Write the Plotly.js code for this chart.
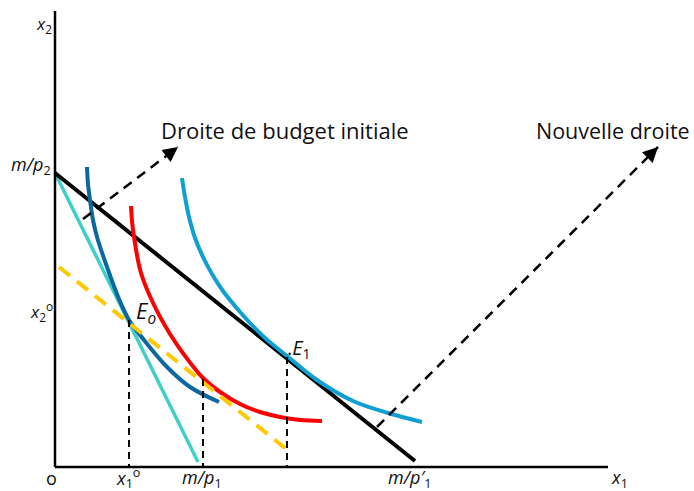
<!DOCTYPE html>
<html><head><meta charset="utf-8">
<script src="https://cdn.plot.ly/plotly-3.0.1.min.js"></script>
<style>html,body{margin:0;padding:0;background:#fff}</style>
</head><body><div id="chart" style="width:694px;height:491px"></div>
<script>
// ---- data (schematic units: quantity of good 1 / good 2) ----
const budgetInitialX = [0, 143];          // cyan: m/p2 -> m/p1
const budgetInitialY = [294, 5];
const budgetNewX = [0, 360];              // black: m/p2 -> m/p'1
const budgetNewY = [294, 6];
const compensatedX = [4, 235];            // yellow dashed
const compensatedY = [200, 15];
const ic0X = [32, 33, 35, 38, 42, 52, 64, 74, 89, 112, 135, 164];
const ic0Y = [300, 283, 267, 247, 230, 200, 168, 147, 127, 100, 80, 65];
const icMidX = [76, 77, 79, 86, 99, 115, 130, 148, 165, 185, 205, 225, 245, 267];
const icMidY = [261, 246, 230, 194, 162, 133, 111, 89, 75, 63, 55, 50, 47, 46];
const ic1X = [127, 130, 134, 140, 148, 157, 168, 180, 195, 210, 232, 262, 298, 333, 367];
const ic1Y = [289, 270, 250, 229, 210, 193, 176, 161, 144, 129, 111, 87, 66, 54, 45];
const dropX = [74, 148, 232];             // x1o, substitution point, E1
const dropTopY = [147, 88, 110];
const arrowInitX = [28, 123], arrowInitY = [248, 320];
const arrowNewX = [322, 603], arrowNewY = [40, 320];
const xLabels = ['o', '<i>x</i><sub>1</sub><sup>o</sup>', '<i>m/p</i><sub>1</sub>', "<i>m/p′</i><sub>1</sub>", '<i>x</i><sub>1</sub>'];
const xLabelPos = [-4, 73, 147, 355, 564];
const axisEndX = 553, axisEndY = 456;

const FONT = 'Open Sans, Lato, sans-serif';
const traces = [];
function line(x, y, color, width, dash, shape) {
  traces.push({type: 'scatter', mode: 'lines', x: x, y: y, hoverinfo: 'skip',
    line: {color: color, width: width, dash: dash || 'solid', shape: shape || 'linear', smoothing: 1}});
}
line(budgetInitialX, budgetInitialY, '#3fcfc8', 3.5);
line(budgetNewX, budgetNewY, '#000000', 4);
line(ic0X, ic0Y, '#0b67a0', 4, 'solid', 'spline');
line(icMidX, icMidY, '#ff0000', 4, 'solid', 'spline');
line(ic1X, ic1Y, '#109fd2', 4, 'solid', 'spline');
line(compensatedX, compensatedY, '#ffc800', 4, '14px,9px');
for (let i = 0; i < dropX.length; i++) {
  line([dropX[i], dropX[i]], [dropTopY[i], 0], '#000000', 2, '7px,5px');
}
line(arrowInitX, arrowInitY, '#000000', 2.5, '10px,7px');
line(arrowNewX, arrowNewY, '#000000', 2.5, '10px,7px');

function head(xs, ys) {
  const dx = xs[1] - xs[0], dy = ys[1] - ys[0], L = Math.hypot(dx, dy);
  return {x: xs[1], y: ys[1], xref: 'x', yref: 'y', text: '', showarrow: true,
    ax: -dx / L * 10, ay: dy / L * 10, arrowhead: 2, arrowsize: 1.2, arrowwidth: 2.5, arrowcolor: '#000'};
}
function label(x, y, text, size, xanchor) {
  return {x: x, y: y, xref: 'x', yref: 'y', text: text, showarrow: false, borderpad: 0,
    xanchor: xanchor || 'center', yanchor: 'middle', font: {family: FONT, size: size, color: '#111'}};
}
const annotations = [head(arrowInitX, arrowInitY), head(arrowNewX, arrowNewY)];
for (let i = 0; i < xLabels.length; i++) annotations.push(label(xLabelPos[i], -11, xLabels[i], 18));
annotations.push(label(-11, 443, '<i>x</i><sub>2</sub>', 17));
annotations.push(label(-3, 302, '<i>m/p</i><sub>2</sub>', 18, 'right'));
annotations.push(label(-1, 156, '<i>x</i><sub>2</sub><sup>o</sup>', 17, 'right'));
annotations.push(label(80, 155, '<i>E<sub>o</sub></i>', 22, 'left'));
annotations.push(label(231, 119, '.<i>E</i><sub>1</sub>', 20, 'left'));
annotations.push(label(230, 337, 'Droite de budget initiale', 22));
annotations.push(label(558, 337, 'Nouvelle droite', 21.5));

const shapes = [
  {type: 'line', xref: 'x', yref: 'y', x0: 0, y0: 0, x1: 0, y1: axisEndY, line: {color: '#000', width: 2.5}},
  {type: 'line', xref: 'x', yref: 'y', x0: 0, y0: 0, x1: axisEndX, y1: 0, line: {color: '#000', width: 2.5}}
];

Plotly.newPlot('chart', traces, {
  width: 694, height: 491, margin: {l: 0, r: 0, t: 0, b: 0},
  paper_bgcolor: '#fff', plot_bgcolor: '#fff', showlegend: false,
  xaxis: {range: [-55, 639], visible: false, fixedrange: true},
  yaxis: {range: [-24, 467], visible: false, fixedrange: true},
  shapes: shapes, annotations: annotations
}, {staticPlot: true});
</script></body></html>
